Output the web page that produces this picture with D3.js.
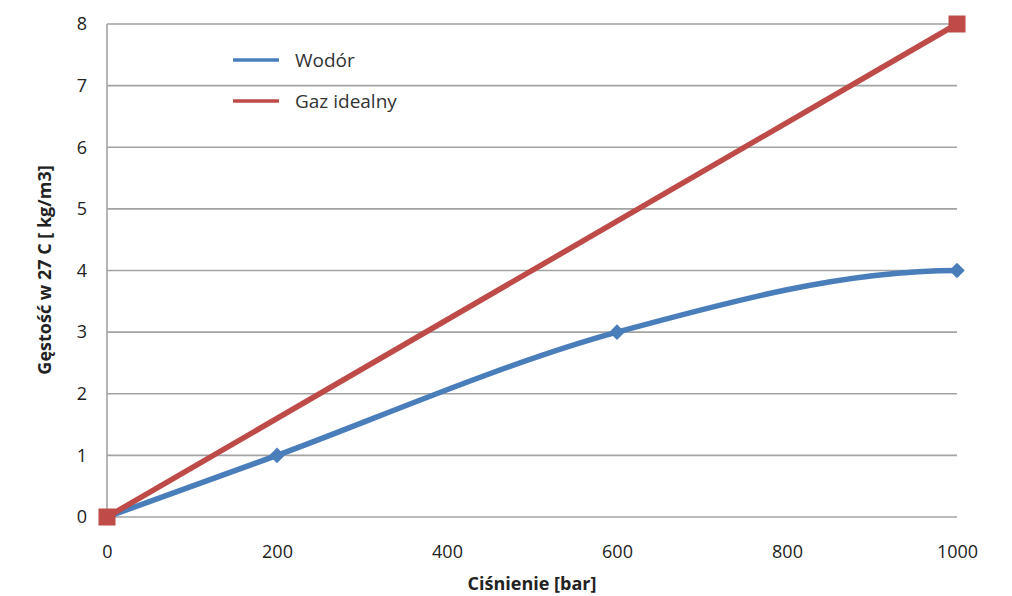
<!DOCTYPE html>
<html><head><meta charset="utf-8">
<script src="https://cdn.jsdelivr.net/npm/d3@7"></script>
<style>body{margin:0;background:#fff}svg{display:block}</style>
</head><body>
<svg id="c" width="1012" height="596"></svg>
<script>
const xTicks = [0, 200, 400, 600, 800, 1000];
const yTicks = [0, 1, 2, 3, 4, 5, 6, 7, 8];
const hydrogenX = [0, 200, 600, 1000];
const hydrogenY = [0, 1, 3, 4];
const idealX = [0, 1000];
const idealY = [0, 8];
const seriesNames = ["Wodór", "Gaz idealny"];
const xTitle = "Ciśnienie [bar]";
const yTitle = "Gęstość w 27 C [ kg/m3]";

const svg = d3.select("#c");
const font = "'Open Sans', 'Liberation Sans', sans-serif";
const x = d3.scaleLinear().domain([0, 1000]).range([107, 957]);
const y = d3.scaleLinear().domain([0, 8]).range([517, 24]);
const grid = "#A3A3A3";
const blue = "#4A7EBB", red = "#BE4B48";

// Excel-like smoothed curve (Bezier, Catmull-Rom tangents, flattened end)
function excelSmooth(context) {
  let pts;
  return {
    areaStart() {}, areaEnd() {},
    lineStart() { pts = []; },
    point(px, py) { pts.push([+px, +py]); },
    lineEnd() {
      const n = pts.length;
      if (!n) return;
      const P = i => pts[Math.max(0, Math.min(n - 1, i))];
      context.moveTo(pts[0][0], pts[0][1]);
      for (let i = 0; i < n - 1; i++) {
        const a = P(i - 1), b = P(i), c = P(i + 1), d = P(i + 2);
        const c1 = [b[0] + (c[0] - a[0]) / 6, b[1] + (c[1] - a[1]) / 6];
        let c2 = [c[0] - (d[0] - b[0]) / 6, c[1] - (d[1] - b[1]) / 6];
        if (i === n - 2 && n > 2) c2 = [c[0] - (c[0] - b[0]) / 3, c[1]];
        context.bezierCurveTo(c1[0], c1[1], c2[0], c2[1], c[0], c[1]);
      }
    }
  };
}

// gridlines
svg.append("g").selectAll("line").data(yTicks).join("line")
  .attr("x1", x(0)).attr("x2", x(1000))
  .attr("y1", d => y(d)).attr("y2", d => y(d))
  .attr("stroke", grid).attr("stroke-width", 1.6);
svg.append("line").attr("x1", x(0)).attr("x2", x(0)).attr("y1", y(8)).attr("y2", y(0))
  .attr("stroke", grid).attr("stroke-width", 1.6);

// axes text via d3 axes
const yAxis = svg.append("g").attr("transform", `translate(87,0)`)
  .call(d3.axisLeft(y).tickValues(yTicks).tickSize(0).tickPadding(0).tickFormat(d3.format("d")));
yAxis.select(".domain").remove();
yAxis.selectAll("text").attr("font-family", font).attr("font-size", 18).attr("fill", "#222");

const xAxis = svg.append("g").attr("transform", `translate(0,${y(0)})`)
  .call(d3.axisBottom(x).tickValues(xTicks).tickSize(0).tickFormat(d3.format("d")));
xAxis.select(".domain").remove();
xAxis.selectAll("text").attr("font-family", font).attr("font-size", 18).attr("fill", "#222")
  .attr("y", 41).attr("dy", 0);

// titles
svg.append("text").attr("x", 532).attr("y", 590).attr("text-anchor", "middle")
  .attr("font-family", font).attr("font-size", 18).attr("font-weight", "bold").attr("fill", "#222").text(xTitle);
svg.append("text").attr("transform", "translate(51,270) rotate(-90)").attr("text-anchor", "middle")
  .attr("font-family", font).attr("font-size", 18).attr("font-weight", "bold").attr("fill", "#222").text(yTitle);

// series
const hData = hydrogenX.map((v, i) => [v, hydrogenY[i]]);
const iData = idealX.map((v, i) => [v, idealY[i]]);
const line = d3.line().x(d => x(d[0])).y(d => y(d[1])).curve(excelSmooth);

svg.append("path").attr("d", line(hData)).attr("fill", "none").attr("stroke", blue).attr("stroke-width", 5.5).attr("stroke-linejoin", "round");
svg.append("g").selectAll("path").data(hData).join("path")
  .attr("transform", d => `translate(${x(d[0])},${y(d[1])}) rotate(45)`)
  .attr("d", "M-5.5,-5.5H5.5V5.5H-5.5Z").attr("fill", blue);

svg.append("path").attr("d", d3.line().x(d => x(d[0])).y(d => y(d[1]))(iData)).attr("fill", "none").attr("stroke", red).attr("stroke-width", 5.5);
svg.append("g").selectAll("rect").data(iData).join("rect")
  .attr("x", d => x(d[0]) - 8.5).attr("y", d => y(d[1]) - 8.5).attr("width", 17).attr("height", 17).attr("fill", red);

// legend
const leg = svg.append("g");
[[blue, 60], [red, 101]].forEach(([c, yy], i) => {
  leg.append("line").attr("x1", 233).attr("x2", 279).attr("y1", yy).attr("y2", yy).attr("stroke", c).attr("stroke-width", 3.5);
  leg.append("text").attr("x", 295).attr("y", yy + 7).attr("font-family", font).attr("font-size", 19).attr("fill", "#333").text(seriesNames[i]);
});
</script>
</body></html>
